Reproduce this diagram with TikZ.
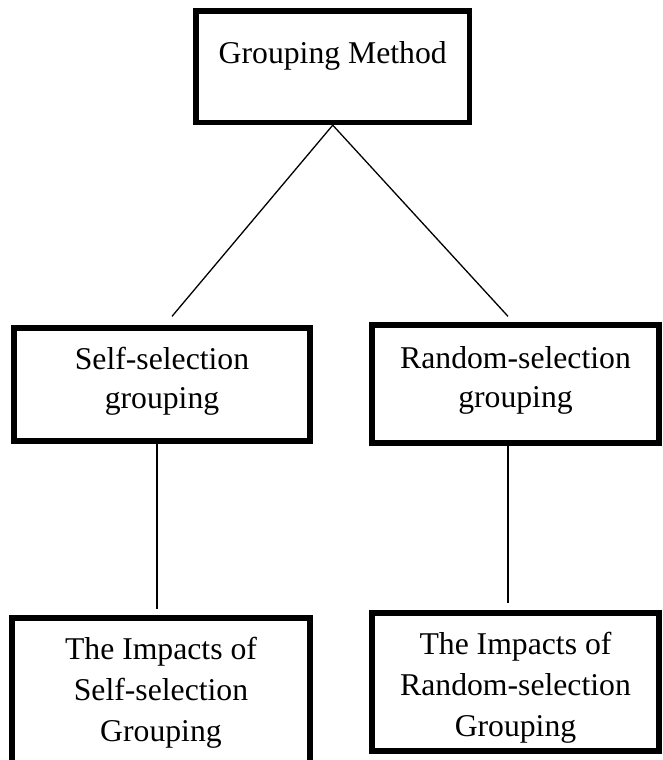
\documentclass[tikz,border=0pt]{standalone}
\usepackage{fontspec}
\setmainfont{Liberation Serif}
\usetikzlibrary{calc}
\newcommand\mydstrut[1]{\rule[-#1]{0pt}{#1}}
\newcommand\myhstrut[1]{\rule{0pt}{#1}}
\begin{document}
\begin{tikzpicture}[x=1pt,y=-1pt,
  box/.style={draw=black, line width=5.3pt, inner sep=0pt, align=center},
  midfont/.style={font=\fontsize{31.7}{39}\selectfont},
  botfont/.style={font=\fontsize{31.7}{41}\selectfont},
  conn/.style={draw=black, line width=1.3pt}]
\useasboundingbox (0,0) rectangle (662,760);
\clip (0,0) rectangle (662,760);

\node[box, font=\fontsize{31.7}{39}\selectfont, minimum width=273.5pt, minimum height=111.5pt] (gm) at (332.75,66.75)
  {Grouping Method\mydstrut{29.15pt}};

\node[box, midfont, minimum width=296pt, minimum height=113pt] (ss) at (162,384.5)
  {Self-selection\\grouping\mydstrut{12.6pt}};
\node[box, midfont, minimum width=287pt, minimum height=118pt] (rs) at (515.5,384)
  {Random-selection\\grouping\mydstrut{14.6pt}};

\node[box, botfont, minimum width=298pt, minimum height=149.3pt] (bl) at (161,692.65)
  {The Impacts of\\Self-selection\\Grouping};
\node[box, botfont, minimum width=287pt, minimum height=138pt] (br) at (515.5,682)
  {\myhstrut{32.9pt}The Impacts of\\Random-selection\\Grouping};

\coordinate (ssTop) at ($(ss.north)+(10,-9)$);
\coordinate (rsTop) at ($(rs.north)+(-7.5,-6)$);
\coordinate (ssBot) at ($(ss.south)+(-5,0)$);
\coordinate (blTop) at ($(bl.north)+(-4,-6)$);
\coordinate (rsBot) at ($(rs.south)+(-7.5,0)$);
\coordinate (brTop) at ($(br.north)+(-7.5,-7)$);

\draw[conn] (gm.south) -- (ssTop);
\draw[conn] (gm.south) -- (rsTop);
\draw[conn] (ssBot) -- (blTop);
\draw[conn] (rsBot) -- (brTop);
\end{tikzpicture}
\end{document}
